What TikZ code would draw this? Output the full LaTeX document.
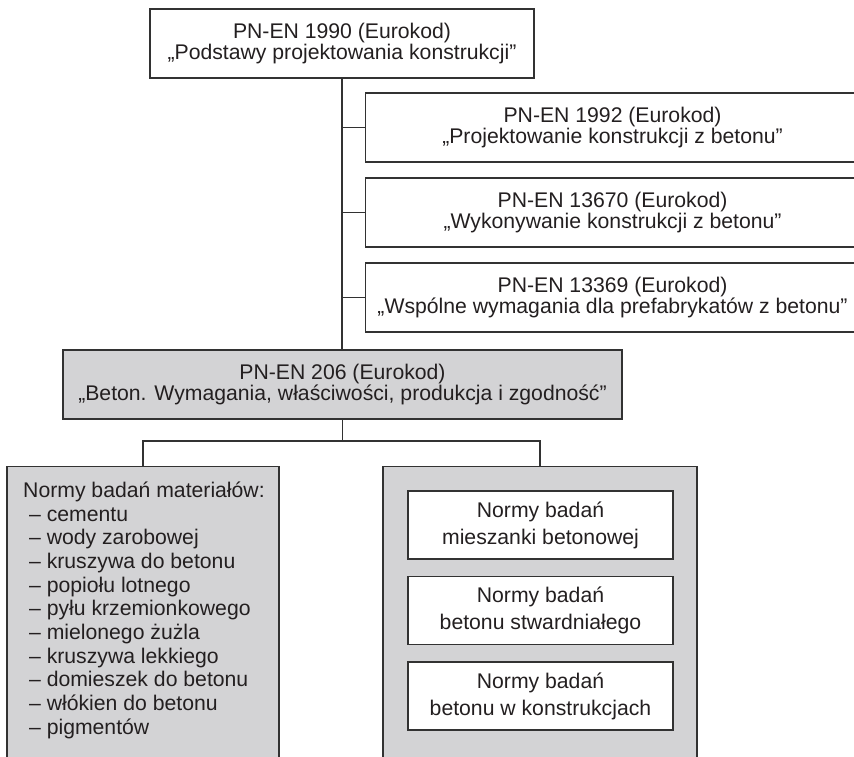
\documentclass[tikz,border=0pt]{standalone}
\usepackage{fontspec}
\setmainfont{Liberation Sans}
\definecolor{linec}{RGB}{50,50,50}
\definecolor{textc}{RGB}{35,31,32}
\definecolor{grayc}{RGB}{211,211,213}
\begin{document}
\begin{tikzpicture}[x=1pt,y=-1pt,
  box/.style={draw=linec, line width=1.1pt, inner sep=0pt, align=center, text=textc,
    font=\fontsize{21.2}{21}\selectfont},
  graybox/.style={box, fill=grayc},
  whitebox/.style={box, fill=white, font=\fontsize{21.2}{27}\selectfont},
  link/.style={draw=linec, line width=1.1pt}]
\useasboundingbox (0,0) rectangle (854,756);
\node[box, minimum width=384, minimum height=69] (top) at (342,43.5)
  {PN-EN 1990 (Eurokod)\\„Podstawy projektowania konstrukcji”};
\node[box, minimum width=494, minimum height=69, anchor=west] (b1) at (365,127.5)
  {PN-EN 1992 (Eurokod)\\„Projektowanie konstrukcji z betonu”};
\node[box, minimum width=494, minimum height=69, anchor=west] (b2) at (365,212.5)
  {PN-EN 13670 (Eurokod)\\„Wykonywanie konstrukcji z betonu”};
\node[box, minimum width=494, minimum height=69, anchor=west] (b3) at (365,297.5)
  {PN-EN 13369 (Eurokod)\\„Wspólne wymagania dla prefabrykatów z betonu”};
\node[graybox, minimum width=559, minimum height=69] (g) at (342.5,384.5)
  {PN-EN 206 (Eurokod)\\„Beton. Wymagania, właściwości, produkcja i zgodność”};
\node[graybox, minimum width=272, minimum height=320, anchor=north] (L) at (143,466) {};
\node[graybox, minimum width=314, minimum height=320, anchor=north] (R) at (540,466) {};
\node[anchor=north west, align=left, inner sep=0pt, text=textc,
  font=\fontsize{21.2}{23.7}\selectfont] (Ltext) at (23,481.5)
  {Normy badań materiałów:\\
   \hspace*{5.9pt}– cementu\\
   \hspace*{5.9pt}– wody zarobowej\\
   \hspace*{5.9pt}– kruszywa do betonu\\
   \hspace*{5.9pt}– popiołu lotnego\\
   \hspace*{5.9pt}– pyłu krzemionkowego\\
   \hspace*{5.9pt}– mielonego żużla\\
   \hspace*{5.9pt}– kruszywa lekkiego\\
   \hspace*{5.9pt}– domieszek do betonu\\
   \hspace*{5.9pt}– włókien do betonu\\
   \hspace*{5.9pt}– pigmentów};
\node[whitebox, minimum width=265, minimum height=68] (r1) at (540.5,525)
  {Normy badań\\mieszanki betonowej};
\node[whitebox, minimum width=265, minimum height=68] (r2) at (540.5,610.5)
  {Normy badań\\betonu stwardniałego};
\node[whitebox, minimum width=265, minimum height=68] (r3) at (540.5,696)
  {Normy badań\\betonu w konstrukcjach};
\coordinate (hj) at (342,441);
\draw[link] (top.south) -- (top.south |- g.north);
\draw[link] (top.south |- b1.west) -- (b1.west);
\draw[link] (top.south |- b2.west) -- (b2.west);
\draw[link] (top.south |- b3.west) -- (b3.west);
\draw[link] (g.south) -- (g.south |- hj);
\draw[link] (L.north) -- (L.north |- hj) -- (R.north |- hj) -- (R.north);
\end{tikzpicture}
\end{document}
